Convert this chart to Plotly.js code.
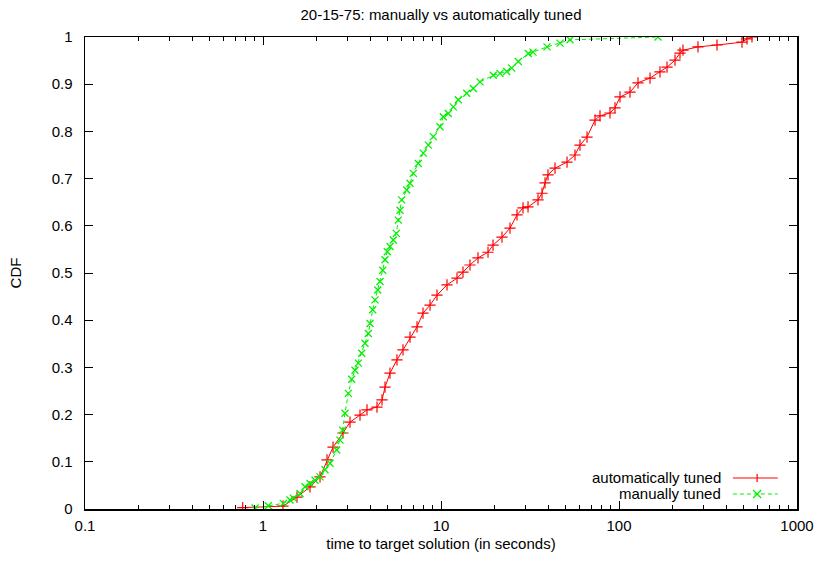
<!DOCTYPE html>
<html>
<head>
<meta charset="utf-8">
<script src="https://cdn.plot.ly/plotly-3.0.1.min.js"></script>
<style>html,body{margin:0;padding:0;background:#fff;}#chart{width:819px;height:561px;}</style>
</head>
<body>
<div id="chart"></div>
<script>
// manually tuned: time to target (s) and CDF
const manualTime = [0.902,1.071,1.300,1.418,1.480,1.614,1.722,1.837,1.960,2.091,2.230,2.379,2.594,2.708,2.804,2.888,3.015,3.150,3.287,3.431,3.585,3.741,3.905,3.992,4.134,4.259,4.411,4.544,4.705,4.847,4.993,5.171,5.395,5.609,5.756,5.884,6.015,6.417,6.697,6.989,7.456,7.954,8.487,9.052,9.872,10.30,10.99,11.73,12.51,13.95,15.19,16.56,19.67,21.45,23.39,24.96,27.19,30.94,32.88,39.40,46.62,53.05,165.6];
const manualCdf = [0.002,0.007,0.012,0.019,0.023,0.033,0.047,0.054,0.061,0.068,0.083,0.097,0.125,0.146,0.167,0.203,0.245,0.275,0.294,0.309,0.330,0.351,0.372,0.393,0.422,0.443,0.464,0.482,0.506,0.528,0.545,0.556,0.570,0.584,0.612,0.633,0.655,0.676,0.690,0.711,0.732,0.754,0.771,0.789,0.810,0.831,0.838,0.852,0.867,0.881,0.891,0.905,0.919,0.923,0.927,0.934,0.948,0.965,0.968,0.979,0.987,0.994,1.0];
// automatically tuned
const autoTime = [0.769,1.295,1.552,1.837,2.091,2.289,2.474,2.814,3.082,3.507,3.839,4.369,4.663,4.846,5.170,5.658,6.116,6.697,7.332,7.925,8.676,9.495,10.81,12.30,13.29,14.55,16.14,18.37,19.60,22.01,24.41,26.73,28.89,30.83,35.08,36.93,38.40,39.92,43.70,51.05,56.59,60.38,66.12,73.34,78.22,89.01,94.95,101.3,115.3,127.9,149.4,169.9,186.1,206.4,220.1,228.8,277.8,355.3,490.9,523.8,558.7];
const autoCdf = [0.003,0.006,0.025,0.047,0.068,0.104,0.131,0.161,0.184,0.199,0.210,0.216,0.231,0.258,0.288,0.316,0.337,0.364,0.386,0.415,0.432,0.453,0.475,0.489,0.502,0.517,0.532,0.544,0.559,0.576,0.595,0.623,0.638,0.640,0.655,0.669,0.691,0.708,0.722,0.735,0.750,0.771,0.788,0.824,0.833,0.839,0.850,0.873,0.883,0.903,0.913,0.926,0.936,0.951,0.966,0.972,0.979,0.983,0.989,0.996,1.0];

const xTickVals = [0.1,1,10,100,1000];
const xTickText = ['0.1','1','10','100','1000'];
const xMinorVals = [0.2,0.3,0.4,0.5,0.6,0.7,0.8,0.9,2,3,4,5,6,7,8,9,20,30,40,50,60,70,80,90,200,300,400,500,600,700,800,900];
const seriesNames = ['automatically tuned','manually tuned'];

const FONT = 'Liberation Sans, Arial, sans-serif';
const RED = '#ff0000', GREEN = '#00f000';

const traces = [
  {x: autoTime, y: autoCdf, name: seriesNames[0], type: 'scatter', mode: 'lines+markers',
   line: {color: RED, width: 1},
   marker: {symbol: 'cross-thin', size: 8, line: {color: RED, width: 1.2}}},
  {x: manualTime, y: manualCdf, name: seriesNames[1], type: 'scatter', mode: 'lines+markers',
   line: {color: GREEN, width: 1, dash: '4px,3px'},
   marker: {symbol: 'x-thin', size: 7, line: {color: GREEN, width: 1.3}}}
];

// legend geometry (paper coords)
const lx0 = 0.910, lx1 = 0.973, lxm = 0.944, ly1 = 0.0657, ly2 = 0.0318, dx = 0.0056, dy = 0.0085;
const layout = {
  width: 819, height: 561,
  margin: {l: 85, r: 22, t: 37, b: 52},
  paper_bgcolor: '#fff', plot_bgcolor: '#fff',
  font: {family: FONT, size: 15, color: '#000'},
  showlegend: false,
  title: {text: '20-15-75: manually vs automatically tuned', x: 0.5, xref: 'paper', y: 0.973, yref: 'container', yanchor: 'middle', font: {family: FONT, size: 15, color: '#000'}},
  xaxis: {
    type: 'log', range: [-1, 3],
    tickvals: xTickVals, ticktext: xTickText,
    ticks: 'inside', ticklen: 8, tickwidth: 1, tickcolor: '#000',
    minor: {tickvals: xMinorVals, ticks: 'inside', ticklen: 4, tickwidth: 1, tickcolor: '#000', showgrid: false},
    showline: true, linecolor: '#000', linewidth: 1.5, mirror: 'ticks',
    showgrid: false, zeroline: false,
    tickfont: {family: FONT, size: 15},
    ticklabelstandoff: 2,
    title: {text: 'time to target solution (in seconds)', font: {family: FONT, size: 15}, standoff: 6}
  },
  yaxis: {
    range: [0, 1], dtick: 0.1, tick0: 0,
    ticks: 'inside', ticklen: 8, tickwidth: 1, tickcolor: '#000',
    showline: true, linecolor: '#000', linewidth: 1.5, mirror: 'ticks',
    showgrid: false, zeroline: false,
    tickfont: {family: FONT, size: 15},
    ticklabelstandoff: 8,
    title: {text: 'CDF', font: {family: FONT, size: 15}, standoff: 26}
  },
  shapes: [
    {type: 'line', xref: 'paper', yref: 'paper', x0: lx0, x1: lx1, y0: ly1, y1: ly1, line: {color: RED, width: 1}},
    {type: 'line', xref: 'paper', yref: 'paper', x0: lxm, x1: lxm, y0: ly1 - dy, y1: ly1 + dy, line: {color: RED, width: 1.2}},
    {type: 'line', xref: 'paper', yref: 'paper', x0: lx0, x1: lx1, y0: ly2, y1: ly2, line: {color: GREEN, width: 1, dash: '4px,3px'}},
    {type: 'line', xref: 'paper', yref: 'paper', x0: lxm - dx, x1: lxm + dx, y0: ly2 - dy, y1: ly2 + dy, line: {color: GREEN, width: 1.2}},
    {type: 'line', xref: 'paper', yref: 'paper', x0: lxm - dx, x1: lxm + dx, y0: ly2 + dy, y1: ly2 - dy, line: {color: GREEN, width: 1.2}}
  ],
  annotations: [
    {text: seriesNames[0], xref: 'paper', yref: 'paper', x: 0.896, y: ly1, xanchor: 'right', yanchor: 'middle', showarrow: false, font: {family: FONT, size: 15}},
    {text: seriesNames[1], xref: 'paper', yref: 'paper', x: 0.896, y: ly2, xanchor: 'right', yanchor: 'middle', showarrow: false, font: {family: FONT, size: 15}}
  ]
};

Plotly.newPlot('chart', traces, layout, {staticPlot: true, displayModeBar: false});
</script>
</body>
</html>
